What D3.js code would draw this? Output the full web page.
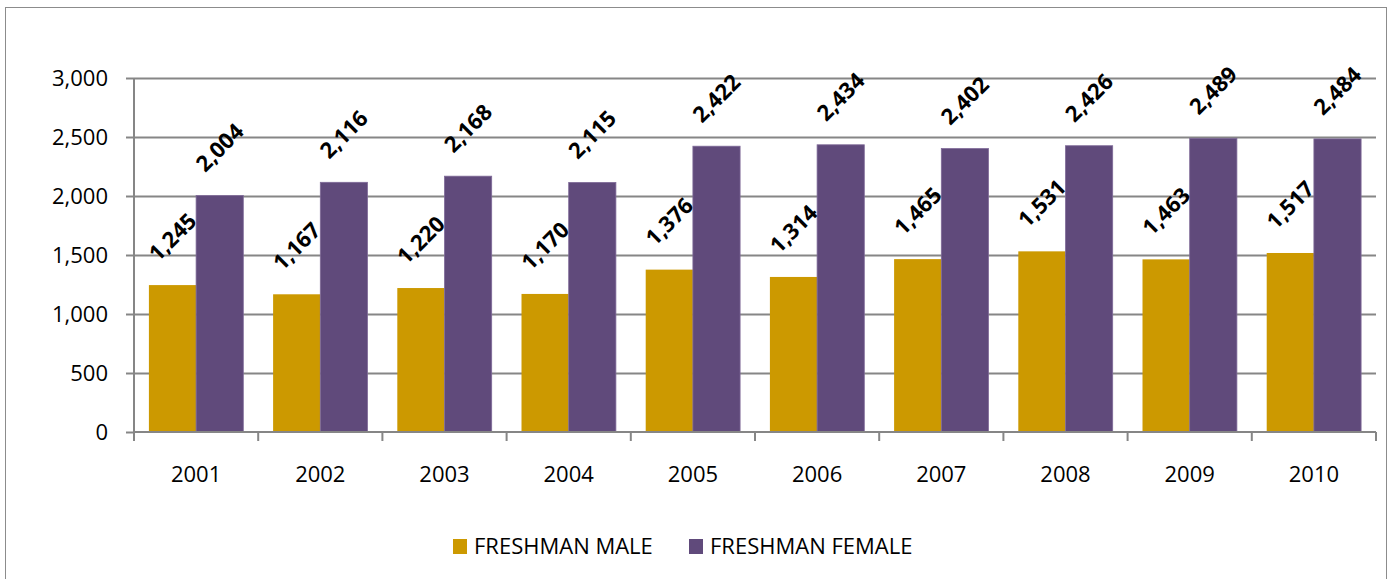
<!DOCTYPE html>
<html><head><meta charset="utf-8">
<script src="https://cdn.jsdelivr.net/npm/d3@7"></script>
<style>
html,body{margin:0;padding:0;background:#fff;}
svg{display:block;font-family:"Open Sans",sans-serif;}
</style></head>
<body><svg id="c" width="1392" height="579"></svg>
<script>
const years = ["2001","2002","2003","2004","2005","2006","2007","2008","2009","2010"];
const maleValues = [1245,1167,1220,1170,1376,1314,1465,1531,1463,1517];
const femaleValues = [2004,2116,2168,2115,2422,2434,2402,2426,2489,2484];
const seriesNames = ["FRESHMAN MALE","FRESHMAN FEMALE"];
const seriesColors = ["#CC9900","#604A7B"];
const yTicks = [0,500,1000,1500,2000,2500,3000];

const svg = d3.select("#c");
const W=1392,H=579;
svg.append("rect").attr("x",5.5).attr("y",7.5).attr("width",1381).attr("height",H+10)
  .attr("fill","#fff").attr("stroke","#8c8c8c").attr("stroke-width",1);

const x = d3.scaleBand().domain(years).range([134,1376]).padding(0);
const y = d3.scaleLinear().domain([0,3000]).range([432,78]);
const axisColor = "#868686";
const FS = 22;

// gridlines
svg.append("g").selectAll("line").data(yTicks.filter(d=>d>0)).join("line")
  .attr("x1",134).attr("x2",1376).attr("y1",d=>Math.round(y(d))+0.5).attr("y2",d=>Math.round(y(d))+0.5)
  .attr("stroke",axisColor).attr("stroke-width",2);

const bw = x.bandwidth();
const off = bw*0.12, barW = bw*0.38;
const data = years.map((yr,i)=>({yr, vals:[maleValues[i],femaleValues[i]]}));

const g = svg.append("g");
data.forEach(d=>{
  d.vals.forEach((v,k)=>{
    const x0 = x(d.yr)+off+k*barW;
    g.append("rect").attr("x",x0).attr("y",y(v)).attr("width",barW).attr("height",y(0)-y(v))
      .attr("fill",seriesColors[k])
      .attr("stroke",k===1?"#7f6a98":"none").attr("stroke-width",k===1?0.8:0);
  });
});

// y axis
const yAxis = d3.axisLeft(y).tickValues(yTicks).tickSize(8).tickPadding(18).tickFormat(d3.format(","));
const ya = svg.append("g").attr("transform","translate(134,0)").call(yAxis);
ya.select(".domain").attr("stroke",axisColor).attr("stroke-width",2).attr("d","M0,78V432");
ya.selectAll(".tick line").attr("stroke",axisColor).attr("stroke-width",2);
ya.selectAll(".tick text").attr("font-size",FS).attr("fill","#000").attr("font-family","Open Sans");

// x axis
const xa = svg.append("g").attr("transform","translate(0,432)");
xa.append("line").attr("x1",134).attr("x2",1376).attr("stroke",axisColor).attr("stroke-width",2);
const bounds = years.map(d=>x(d)).concat([x(years[years.length-1])+bw]);
xa.selectAll("line.t").data(bounds).join("line").attr("class","t")
  .attr("x1",d=>d).attr("x2",d=>d).attr("y1",0).attr("y2",9).attr("stroke",axisColor).attr("stroke-width",2);
xa.selectAll("text").data(years).join("text")
  .attr("x",d=>x(d)+bw/2).attr("y",50).attr("text-anchor","middle").attr("font-size",FS).attr("fill","#000")
  .text(d=>d);

// data labels
const fmt = d3.format(",");
data.forEach(d=>{
  d.vals.forEach((v,k)=>{
    const cx = x(d.yr)+off+k*barW+barW/2;
    const cy = y(v)-48;
    svg.append("text").attr("transform",`translate(${cx},${cy}) rotate(-45)`)
      .attr("text-anchor","middle").attr("dy","0.35em").attr("font-size",FS).attr("font-weight","bold")
      .attr("fill","#000").text(fmt(v));
  });
});

// legend
const leg = svg.append("g");
const legX = [453,689];
seriesNames.forEach((n,i)=>{
  leg.append("rect").attr("x",legX[i]).attr("y",539).attr("width",14).attr("height",15).attr("fill",seriesColors[i]);
  leg.append("text").attr("x",legX[i]+21).attr("y",554).attr("font-size",FS).attr("fill","#000").text(n);
});
</script></body></html>
